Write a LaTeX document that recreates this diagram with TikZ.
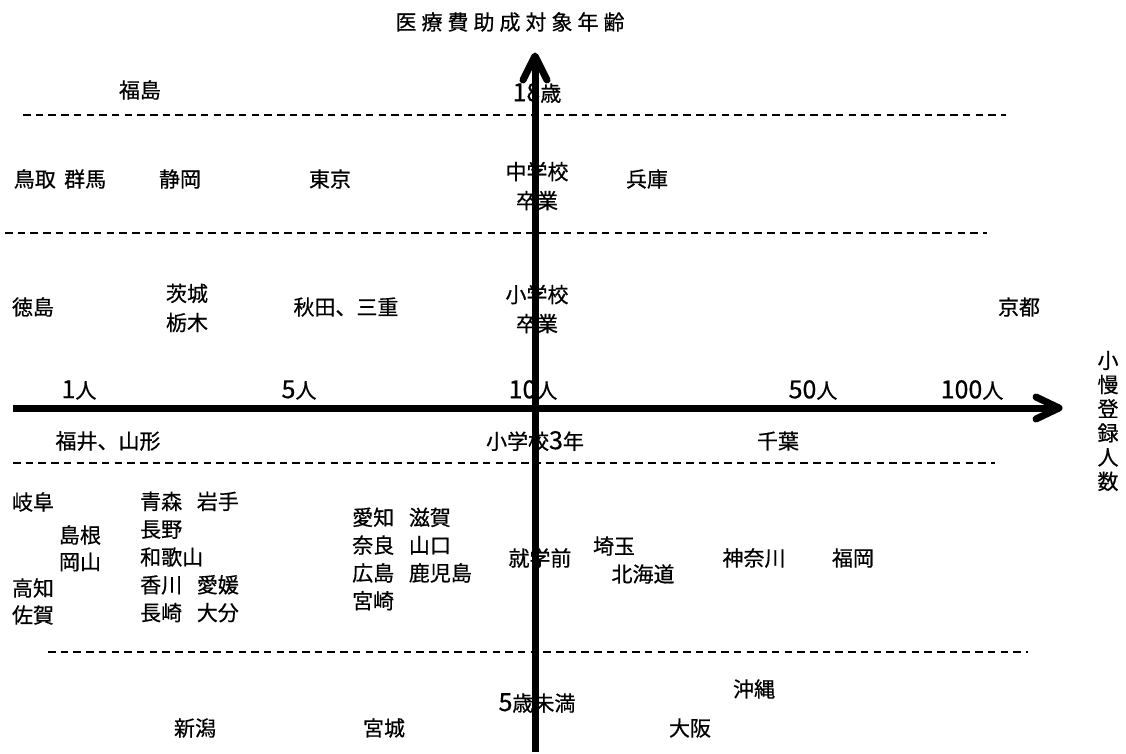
\documentclass[tikz,border=0pt]{standalone}
\usepackage{fontspec}
\newfontfamily\jp[FakeBold=0.6]{Noto Sans CJK JP}
\tikzset{
  lbl/.style={font={\jp\fontsize{21}{28}\selectfont}, inner sep=0pt, align=center},
  lbll/.style={font={\jp\fontsize{21}{27.8}\selectfont}, inner sep=0pt, align=left, anchor=west},
  twol/.style={font={\jp\fontsize{21}{29}\selectfont}, inner sep=0pt, align=center},
  sep/.style={draw=black, line width=1.6pt, dash pattern=on 7.5pt off 5.2pt},
  axis/.style={draw=black, line width=7pt},
  barb/.style={draw=black, line width=7pt, line cap=round, line join=round}
}
\newcommand{\gp}{\hspace{0.7em}}
\newcommand{\tk}{\kern5pt}
\newcommand{\dg}[1]{{\fontsize{25}{25}\selectfont #1}}
\begin{document}
\begin{tikzpicture}[x=1pt,y=-1pt]
\useasboundingbox (0,0) rectangle (1126,754);
% title
\node[lbl] (title) at (510,22) {医\tk 療\tk 費\tk 助\tk 成\tk 対\tk 象\tk 年\tk 齢};
% dashed separators
\coordinate (d1a) at (23,115);  \coordinate (d1b) at (1006,115);
\coordinate (d2a) at (5,233);   \coordinate (d2b) at (987,233);
\coordinate (d3a) at (13,463);  \coordinate (d3b) at (995,463);
\coordinate (d4a) at (48,652);  \coordinate (d4b) at (1028,652);
\draw[sep] (d1a) -- (d1b);
\draw[sep] (d2a) -- (d2b);
\draw[sep] (d3a) -- (d3b);
\draw[sep] (d4a) -- (d4b);
% row: 18
\node[lbl] (fukushima) at (140,90) {福島};
\node[lbl] (a18) at (537,93) {\dg{18}歳};
% row: junior high
\node[lbl] (tottori) at (60,179) {鳥取\hspace{0.4em}群馬};
\node[lbl] (shizuoka) at (180,179) {静岡};
\node[lbl] (tokyo) at (330,179) {東京};
\node[twol] (chugaku) at (537,186) {中学校\\卒業};
\node[lbl] (hyogo) at (647,179) {兵庫};
% row: elementary
\node[lbl] (tokushima) at (33,307) {徳島};
\node[twol] (ibaraki) at (187,308) {茨城\\栃木};
\node[lbl] (akita) at (346,307) {秋田、三重};
\node[twol] (shogaku) at (537,309) {小学校\\卒業};
\node[lbl] (kyoto) at (1019,307) {京都};
% x-axis scale labels
\node[lbl] (n1) at (79,390) {\dg{1}人};
\node[lbl] (n5) at (299,390) {\dg{5}人};
\node[lbl] (n10) at (533,390) {\dg{10}人};
\node[lbl] (n50) at (813,390) {\dg{50}人};
\node[lbl] (n100) at (972,390) {\dg{100}人};
\node[font={\jp\fontsize{21}{24.2}\selectfont}, inner sep=0pt, align=center] (xlab) at (1108,421) {小\\慢\\登\\録\\人\\数};
% row: grade 3
\node[lbl] (fukui) at (108,441) {福井、山形};
\node[lbl] (sho3) at (535,441) {小学校\dg{3}年};
\node[lbl] (chiba) at (778,441) {千葉};
% row: preschool
\node[lbl] (gifu) at (33,502) {岐阜};
\node[lbl] (shimane) at (80,535) {島根};
\node[lbl] (okayama) at (80,562) {岡山};
\node[lbl] (kochi) at (33,588) {高知};
\node[lbl] (saga) at (33,615) {佐賀};
\node[lbll] (aomori) at (140,557) {青森\gp 岩手\\長野\\和歌山\\香川\gp 愛媛\\長崎\gp 大分};
\node[lbll] (aichi) at (352,559) {愛知\gp 滋賀\\奈良\gp 山口\\広島\gp 鹿児島\\宮崎};
\node[lbl] (shugaku) at (540,558) {就学前};
\node[lbl] (saitama) at (614,546) {埼玉};
\node[lbl] (hokkaido) at (643,574) {北海道};
\node[lbl] (kanagawa) at (754,558) {神奈川};
\node[lbl] (fukuoka) at (853,558) {福岡};
% row: under 5
\node[lbl] (u5) at (537,703) {\dg{5}歳未満};
\node[lbl] (okinawa) at (754,689) {沖縄};
\node[lbl] (niigata) at (195,728) {新潟};
\node[lbl] (miyagi) at (384,728) {宮城};
\node[lbl] (osaka) at (690,728) {大阪};
% axes
\coordinate (xs) at (13,408);
\coordinate (xe) at (1059,408);
\coordinate (ys) at (535,752);
\coordinate (ye) at (535,56);
\draw[axis] (xs) -- ([xshift=-3pt]xe);
\draw[barb] ([xshift=-23pt,yshift=-11pt]xe) -- (xe) -- ([xshift=-23pt,yshift=11pt]xe);
\draw[axis] (ys) -- ([yshift=-3pt]ye);
\draw[barb] ([xshift=-12pt,yshift=-24pt]ye) -- (ye) -- ([xshift=12pt,yshift=-24pt]ye);
\end{tikzpicture}
\end{document}
